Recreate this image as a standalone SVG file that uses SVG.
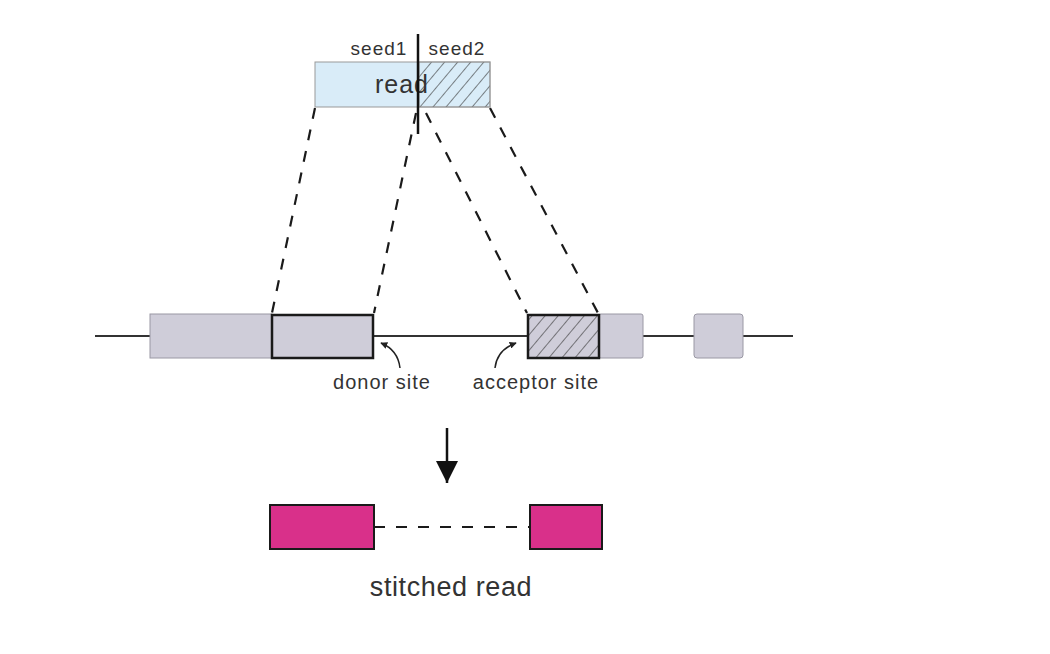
<svg xmlns="http://www.w3.org/2000/svg" width="1050" height="654" viewBox="0 0 1050 654">
<defs>
<pattern id="hatch" patternUnits="userSpaceOnUse" width="10" height="10" patternTransform="rotate(40)">
<line x1="0" y1="0" x2="0" y2="10" stroke="#333" stroke-width="1.2"/>
</pattern>
<marker id="ah" viewBox="0 0 10 10" refX="9" refY="5" markerWidth="7" markerHeight="7" orient="auto" markerUnits="userSpaceOnUse">
<path d="M0,0 L10,5 L0,10 z" fill="#222"/>
</marker>
<marker id="bigah" viewBox="0 0 10 10" refX="10" refY="5" markerWidth="22" markerHeight="22" orient="auto" markerUnits="userSpaceOnUse">
<path d="M0,0 L10,5 L0,10 z" fill="#111"/>
</marker>
</defs>
<style>
text{font-family:"Liberation Sans",Arial,sans-serif;fill:#333}
.exon{fill:#cfcdd9;stroke:#9a98a4;stroke-width:1}
.bold{stroke:#1a1a1a;stroke-width:2.5}
.dash{stroke:#1a1a1a;stroke-width:2.2;stroke-dasharray:11,11;fill:none}
.pink{fill:#d9308a;stroke:#1a1a1a;stroke-width:2}
</style>
<rect width="1050" height="654" fill="#fff"/>

<g id="connectors">
<line class="dash" x1="315" y1="108" x2="272" y2="313"/>
<line class="dash" x1="416" y1="113" x2="374" y2="313"/>
<line class="dash" x1="426" y1="113" x2="527" y2="313"/>
<line class="dash" x1="490" y1="108" x2="598" y2="313"/>
<line x1="447" y1="428" x2="447" y2="483" stroke="#111" stroke-width="2.5" marker-end="url(#bigah)"/>
<path d="M400,368 Q398,350 381,343" fill="none" stroke="#222" stroke-width="1.5" marker-end="url(#ah)"/>
<path d="M495,368 Q497,350 516,343" fill="none" stroke="#222" stroke-width="1.5" marker-end="url(#ah)"/>
<line class="dash" x1="374" y1="527" x2="530" y2="527" stroke-dasharray="10,10"/>
</g>

<g id="read">
<rect x="315" y="62" width="175" height="45" fill="#d9ecf8" stroke="#999" stroke-width="1"/>
<rect x="419" y="62" width="71" height="45" fill="url(#hatch)" stroke="#999" stroke-width="1"/>
<text x="402" y="93" font-size="25" letter-spacing="1" text-anchor="middle">read</text>
<text x="379" y="55" font-size="19" letter-spacing="1" text-anchor="middle">seed1</text>
<text x="457" y="55" font-size="19" letter-spacing="1" text-anchor="middle">seed2</text>
<line x1="418" y1="34" x2="418" y2="134" stroke="#111" stroke-width="2.5"/>
</g>

<g id="gene">
<line x1="95" y1="336" x2="793" y2="336" stroke="#333" stroke-width="2"/>
<rect class="exon" x="150" y="314" width="122" height="44"/>
<rect class="exon" x="599" y="314" width="44" height="44" rx="2"/>
<rect class="exon" x="694" y="314" width="49" height="44" rx="3"/>
</g>

<g id="donor-exon">
<rect class="exon bold" x="272" y="315" width="101" height="43"/>
</g>

<g id="acceptor-exon">
<rect x="528" y="315" width="71" height="43" fill="#cfcdd9"/>
<rect class="bold" x="528" y="315" width="71" height="43" fill="url(#hatch)"/>
</g>

<g id="donor-label">
<text x="382" y="389" font-size="20" letter-spacing="1" text-anchor="middle">donor site</text>
</g>
<g id="acceptor-label">
<text x="536" y="389" font-size="20" letter-spacing="1" text-anchor="middle">acceptor site</text>
</g>

<g id="stitched">
<rect class="pink" x="270" y="505" width="104" height="44"/>
<rect class="pink" x="530" y="505" width="72" height="44"/>
<text x="451" y="596" font-size="27" letter-spacing="0.6" text-anchor="middle">stitched read</text>
</g>
</svg>
